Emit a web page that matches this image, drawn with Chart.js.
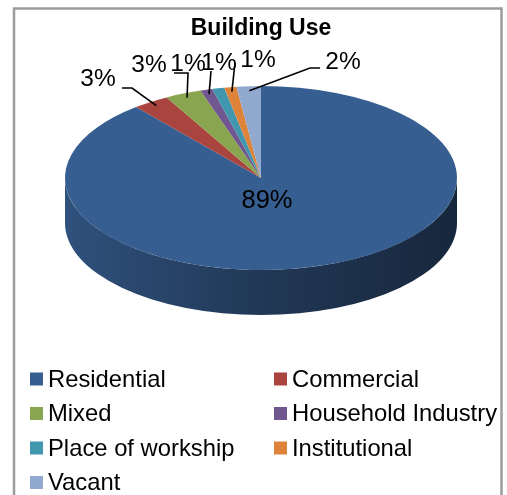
<!DOCTYPE html>
<html><head><meta charset="utf-8">
<script src="https://cdn.jsdelivr.net/npm/chart.js@4"></script>
<style>html,body{margin:0;padding:0;background:#fff;}canvas{display:block}</style>
</head><body>
<canvas id="c" width="507" height="495"></canvas>
<script>
// ---- data ----
const categories = ['Residential','Commercial','Mixed','Household Industry','Place of workship','Institutional','Vacant'];
const values = [89, 3, 3, 1, 1, 1, 2];
const sliceColors = ['#375E90','#A9443F','#8AA54F','#70578F','#4097AE','#DD843A','#92A9CF'];
const chartTitle = 'Building Use';

// ---- layout (not data) ----
const FONT = "'Liberation Sans', Arial, sans-serif";
const PIE = { cy: 178, ry: 92, depth: 45 };
const LABEL_LAYOUT = [
  { x: 267, y: 208, size: 25.5 },
  { x: 98,  y: 86,  lead: [[122, 88], [132, 88]] },
  { x: 149, y: 72,  lead: [[174, 73], [188, 73]] },
  { x: 188, y: 70.5,lead: [[211, 71]] },
  { x: 219, y: 70 },
  { x: 258, y: 67,  lead: [[235, 63]] },
  { x: 343, y: 68.5,lead: [[320, 68], [310, 68]] }
];
const LEGEND = { cols: [30, 274], rows: [379, 413.5, 448, 482.5], box: 13, gap: 5, size: 23.8 };

function shade(hex, f) {
  const n = parseInt(hex.slice(1), 16);
  const r = Math.round(((n >> 16) & 255) * f), g = Math.round(((n >> 8) & 255) * f), b = Math.round((n & 255) * f);
  return `rgb(${r},${g},${b})`;
}
function pct(i) {
  const total = values.reduce((a, b) => a + b, 0);
  return Math.round(values[i] / total * 100) + '%';
}

const pie3d = {
  id: 'pie3d',
  beforeDraw(chart) {
    const ctx = chart.ctx;
    ctx.save();
    ctx.fillStyle = '#fff';
    ctx.fillRect(0, 0, chart.width, chart.height);
    ctx.strokeStyle = '#9C9C9C';
    ctx.lineWidth = 2.5;
    ctx.strokeRect(14, 8.5, 487.5, 520);
    ctx.restore();
  },
  beforeDatasetsDraw(chart) {
    const ctx = chart.ctx;
    const arcs = chart.getDatasetMeta(0).data;
    const a0 = arcs[0];
    const cx = a0.x, R = a0.outerRadius, Ey = PIE.cy, ry = PIE.ry, D = PIE.depth;
    // side walls (front half only)
    arcs.forEach((arc, i) => {
      const s = arc.startAngle, e = arc.endAngle;
      for (let n = -1; n <= 1; n++) {
        const lo = Math.max(s, 2 * Math.PI * n), hi = Math.min(e, Math.PI + 2 * Math.PI * n);
        if (hi <= lo) continue;
        const g = ctx.createLinearGradient(cx - R, 0, cx + R, 0);
        const col = sliceColors[i];
        g.addColorStop(0, shade(col, 0.86));
        g.addColorStop(0.5, shade(col, 0.6));
        g.addColorStop(1, shade(col, 0.42));
        ctx.save();
        ctx.beginPath();
        ctx.ellipse(cx, Ey, R, ry, 0, lo, hi, false);
        ctx.ellipse(cx, Ey + D, R, ry, 0, hi, lo, true);
        ctx.closePath();
        ctx.fillStyle = g;
        ctx.fill();
        ctx.restore();
      }
    });
    // squash the top face into an ellipse
    ctx.save();
    ctx.translate(0, Ey);
    ctx.scale(1, ry / R);
    ctx.translate(0, -a0.y);
  },
  afterDatasetsDraw(chart) {
    const ctx = chart.ctx;
    ctx.restore();
    const arcs = chart.getDatasetMeta(0).data;
    const a0 = arcs[0];
    const cx = a0.x, R = a0.outerRadius, Ey = PIE.cy, ry = PIE.ry;
    ctx.save();
    // leader lines
    ctx.strokeStyle = '#000';
    ctx.lineWidth = 1.6;
    arcs.forEach((arc, i) => {
      const L = LABEL_LAYOUT[i];
      if (!L.lead) return;
      const mid = (arc.startAngle + arc.endAngle) / 2;
      const ax = cx + R * 0.95 * Math.cos(mid), ay = Ey + ry * 0.95 * Math.sin(mid);
      ctx.beginPath();
      ctx.moveTo(L.lead[0][0], L.lead[0][1]);
      for (let k = 1; k < L.lead.length; k++) ctx.lineTo(L.lead[k][0], L.lead[k][1]);
      ctx.lineTo(ax, ay);
      ctx.stroke();
    });
    // percentage labels
    ctx.fillStyle = '#000';
    ctx.textAlign = 'center';
    ctx.textBaseline = 'alphabetic';
    arcs.forEach((arc, i) => {
      const L = LABEL_LAYOUT[i];
      ctx.font = `${L.size || 24.5}px ${FONT}`;
      ctx.fillText(pct(i), L.x, L.y);
    });
    ctx.restore();
  },
  afterDraw(chart) {
    const ctx = chart.ctx;
    ctx.save();
    ctx.font = `${LEGEND.size}px ${FONT}`;
    ctx.textBaseline = 'middle';
    ctx.textAlign = 'left';
    categories.forEach((name, i) => {
      const x = LEGEND.cols[i % 2], y = LEGEND.rows[Math.floor(i / 2)];
      ctx.fillStyle = sliceColors[i];
      ctx.fillRect(x, y - LEGEND.box / 2, LEGEND.box, LEGEND.box);
      ctx.fillStyle = '#000';
      ctx.fillText(name, x + LEGEND.box + LEGEND.gap, y + 1);
    });
    ctx.restore();
  }
};

Chart.defaults.font.family = FONT;
new Chart(document.getElementById('c'), {
  type: 'pie',
  data: {
    labels: categories,
    datasets: [{
      data: values,
      backgroundColor: sliceColors,
      borderWidth: 0,
      hoverOffset: 0,
      offset: 0,
      clip: false
    }]
  },
  options: {
    responsive: false,
    devicePixelRatio: 1,
    animation: false,
    radius: 196,
    layout: { padding: { left: 65, right: 50, top: 0, bottom: 0 } },
    events: [],
    plugins: {
      legend: { display: false },
      tooltip: { enabled: false },
      title: {
        display: true,
        text: chartTitle,
        color: '#000',
        font: { family: FONT, size: 23, weight: 'bold' },
        padding: { top: 15, bottom: 7 }
      }
    }
  },
  plugins: [pie3d]
});
</script>
</body></html>
